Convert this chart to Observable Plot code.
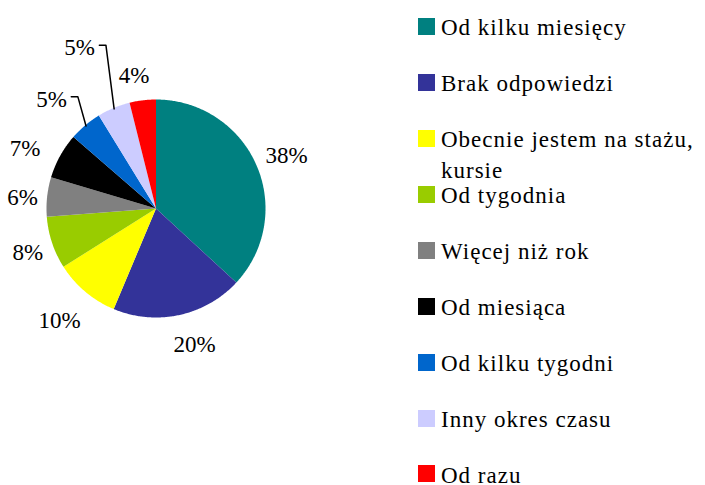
<!DOCTYPE html>
<html>
<head>
<meta charset="utf-8">
<script src="https://cdn.jsdelivr.net/npm/d3@7"></script>
<script src="https://cdn.jsdelivr.net/npm/@observablehq/plot@0.6"></script>
<style>
  body { margin: 0; background: #fff; }
  #wrap { position: relative; width: 705px; height: 485px; }
  #chart { position: absolute; left: 0; top: 0; }
  #legend { position: absolute; left: 418px; top: 12.4px; width: 287px; }
  .lg-swatches { font-family: "Liberation Serif", "Times New Roman", serif !important; font-size: 23px !important; letter-spacing: 1px; color: #000; margin: 0 !important; }
  .lg-swatch { align-items: flex-start !important; height: 55.9px; padding: 0 !important; }
  .lg-swatch > svg { margin-top: 5.9px; margin-right: 6px !important; flex-shrink: 0; }
  .lg-swatch-label { white-space: normal !important; overflow: visible !important; line-height: 31px; width: 262px; }
</style>
</head>
<body>
<div id="wrap"><div id="chart"></div><div id="legend"></div></div>
<script>
const categories = ["Od kilku miesięcy", "Brak odpowiedzi", "Obecnie jestem na stażu, kursie", "Od tygodnia", "Więcej niż rok", "Od miesiąca", "Od kilku tygodni", "Inny okres czasu", "Od razu"];
const values = [38, 20, 10, 8, 6, 7, 5, 5, 4];
const colors = ["#008080", "#333399", "#FFFF00", "#99CC00", "#808080", "#000000", "#0066CC", "#CCCCFF", "#FF0000"];

const total = d3.sum(values);
let acc = 0;
const slices = categories.map((cat, i) => {
  const a0 = acc / total * 2 * Math.PI;
  acc += values[i];
  const a1 = acc / total * 2 * Math.PI;
  return {cat, value: values[i], a0, a1, mid: (a0 + a1) / 2};
});

// polygon points of each slice (angle clockwise from 12 o'clock)
const slicePts = [];
for (const s of slices) {
  slicePts.push({cat: s.cat, x: 0, y: 0});
  const n = Math.max(2, Math.ceil((s.a1 - s.a0) / 0.01));
  for (let k = 0; k <= n; k++) {
    const a = s.a0 + (s.a1 - s.a0) * k / n;
    slicePts.push({cat: s.cat, x: Math.sin(a), y: Math.cos(a)});
  }
  slicePts.push({cat: s.cat, x: 0, y: 0});
}

// label placement: radial at 1.28 r with small hand nudges (data units); two small slices use leader lines
const nudge = {
  "Od kilku miesięcy": [0.02, -0.03],
  "Brak odpowiedzi": [0.08, 0],
  "Obecnie jestem na stażu, kursie": [-0.055, -0.055],
  "Od tygodnia": [0.045, 0],
  "Więcej niż rok": [0.055, -0.035],
  "Od miesiąca": [-0.075, -0.065],
  "Od razu": [-0.045, -0.055]
};
const leaderLift = {"Od kilku tygodni": 0.27, "Inny okres czasu": 0.585};
const labels = [], leaders = [];
for (const s of slices) {
  const txt = s.value + "%";
  if (leaderLift[s.cat] != null) {
    const ex = Math.sin(s.mid) * 0.99, ey = Math.cos(s.mid) * 0.99;
    const bx = ex - 0.075, by = ey + leaderLift[s.cat];
    const sx = bx - 0.06;
    leaders.push({cat: s.cat, x: sx, y: by}, {cat: s.cat, x: bx, y: by}, {cat: s.cat, x: ex, y: ey});
    labels.push({text: txt, x: sx - 0.04, y: by - 0.025, anchor: "end"});
  } else {
    const [nx, ny] = nudge[s.cat] || [0, 0];
    labels.push({text: txt, x: Math.sin(s.mid) * 1.28 + nx, y: Math.cos(s.mid) * 1.28 + ny, anchor: "middle"});
  }
}

const plot = Plot.plot({
  width: 705,
  height: 485,
  margin: 0,
  x: {domain: [-1, 1], range: [46, 265], axis: null},
  y: {domain: [-1, 1], range: [317, 99], axis: null},
  color: {domain: categories, range: colors},
  style: {background: "#fff"},
  marks: [
    Plot.line(slicePts, {x: "x", y: "y", z: "cat", fill: "cat", stroke: null, curve: "linear"}),
    Plot.line(leaders, {x: "x", y: "y", z: "cat", stroke: "#000", strokeWidth: 1.5}),
    Plot.text(labels.filter(d => d.anchor === "middle"), {x: "x", y: "y", text: "text", fontSize: 23, fontFamily: "Liberation Serif", fill: "#000", textAnchor: "middle"}),
    Plot.text(labels.filter(d => d.anchor === "end"), {x: "x", y: "y", text: "text", fontSize: 23, fontFamily: "Liberation Serif", fill: "#000", textAnchor: "end"})
  ]
});
document.getElementById("chart").appendChild(plot);

const legend = Plot.legend({
  color: {type: "ordinal", domain: categories, range: colors},
  legend: "swatches",
  columns: 1,
  swatchSize: 17,
  className: "lg"
});
document.getElementById("legend").appendChild(legend);
</script>
</body>
</html>
